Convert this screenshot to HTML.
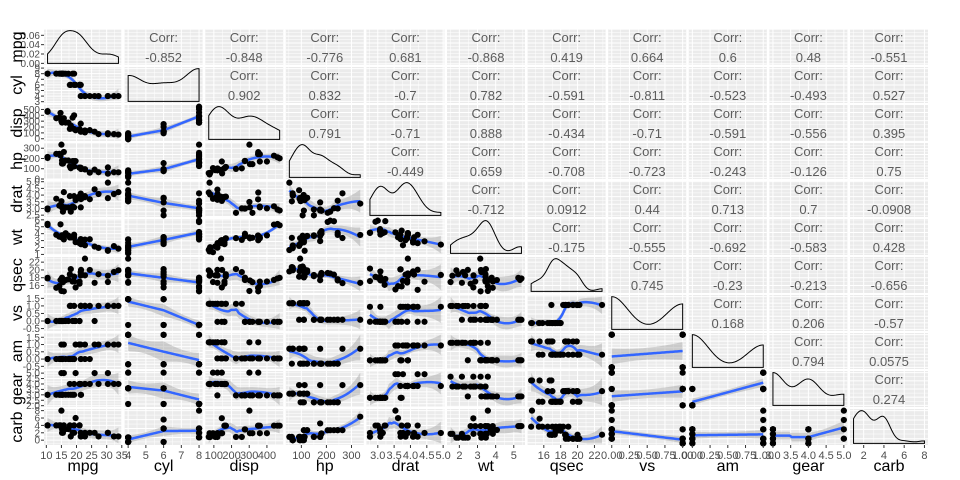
<!DOCTYPE html>
<html><head><meta charset="utf-8">
<style>
html,body{margin:0;padding:0;background:#fff;}
svg{display:block;font-family:"Liberation Sans",sans-serif;}
</style></head>
<body>
<svg id="chart" width="960" height="480" viewBox="0 0 960 480" xmlns="http://www.w3.org/2000/svg"></svg>
<script>
const varNames = ["mpg","cyl","disp","hp","drat","wt","qsec","vs","am","gear","carb"];
const mpg = [21,21,22.8,21.4,18.7,18.1,14.3,24.4,22.8,19.2,17.8,16.4,17.3,15.2,10.4,10.4,14.7,32.4,30.4,33.9,21.5,15.5,15.2,13.3,19.2,27.3,26,30.4,15.8,19.7,15,21.4];
const cyl = [6,6,4,6,8,6,8,4,4,6,6,8,8,8,8,8,8,4,4,4,4,8,8,8,8,4,4,4,8,6,8,4];
const disp = [160,160,108,258,360,225,360,146.7,140.8,167.6,167.6,275.8,275.8,275.8,472,460,440,78.7,75.7,71.1,120.1,318,304,350,400,79,120.3,95.1,351,145,301,121];
const hp = [110,110,93,110,175,105,245,62,95,123,123,180,180,180,205,215,230,66,52,65,97,150,150,245,175,66,91,113,264,175,335,109];
const drat = [3.9,3.9,3.85,3.08,3.15,2.76,3.21,3.69,3.92,3.92,3.92,3.07,3.07,3.07,2.93,3,3.23,4.08,4.93,4.22,3.7,2.76,3.15,3.73,3.08,4.08,4.43,3.77,4.22,3.62,3.54,4.11];
const wt = [2.62,2.875,2.32,3.215,3.44,3.46,3.57,3.19,3.15,3.44,3.44,4.07,3.73,3.78,5.25,5.424,5.345,2.2,1.615,1.835,2.465,3.52,3.435,3.84,3.845,1.935,2.14,1.513,3.17,2.77,3.57,2.78];
const qsec = [16.46,17.02,18.61,19.44,17.02,20.22,15.84,20,22.9,18.3,18.9,17.4,17.6,18,17.98,17.82,17.42,19.47,18.52,19.9,20.01,16.87,17.3,15.41,17.05,18.9,16.7,16.9,14.5,15.5,14.6,18.6];
const vs = [0,0,1,1,0,1,0,1,1,1,1,0,0,0,0,0,0,1,1,1,1,0,0,0,0,1,0,1,0,0,0,1];
const am = [1,1,1,0,0,0,0,0,0,0,0,0,0,0,0,0,0,1,1,1,0,0,0,0,0,1,1,1,1,1,1,1];
const gear = [4,4,4,3,3,3,3,4,4,4,4,3,3,3,3,3,3,4,4,4,3,3,3,3,3,4,5,5,5,5,5,4];
const carb = [4,4,1,1,2,1,4,2,2,4,4,3,3,3,4,4,4,1,2,1,1,2,2,4,2,1,2,2,4,6,8,2];
const tickMpg = [10,15,20,25,30,35];
const tickCyl = [4,5,6,7,8];
const tickDisp = [100,200,300,400];
const tickHp = [100,200,300];
const tickDrat = [3.0,3.5,4.0,4.5,5.0];
const tickWt = [2,3,4,5];
const tickQsec = [16,18,20,22];
const tickVs = [0,0.25,0.5,0.75,1];
const tickAm = [0,0.25,0.5,0.75,1];
const tickGear = [3.0,3.5,4.0,4.5,5.0];
const tickCarb = [2,4,6,8];
const tickDensity = [0,0.02,0.04,0.06];

const cols = [mpg,cyl,disp,hp,drat,wt,qsec,vs,am,gear,carb];
const ticks = [tickMpg,tickCyl,tickDisp,tickHp,tickDrat,tickWt,tickQsec,tickVs,tickAm,tickGear,tickCarb];
const tickFmt = [v=>v, v=>v, v=>v, v=>v, v=>v.toFixed(1), v=>v, v=>v, v=>v.toFixed(2), v=>v.toFixed(2), v=>v.toFixed(1), v=>v];

const NS="http://www.w3.org/2000/svg";
const svg=document.getElementById('chart');
function el(tag,attrs,parent){const e=document.createElementNS(NS,tag);for(const k in attrs)e.setAttribute(k,attrs[k]);(parent||svg).appendChild(e);return e;}

const X0=44, XS=80.6, PW=78, Y0=29, YS=38, PH=36;
const N=varNames.length;
const ranges=cols.map(c=>{const mn=Math.min(...c),mx=Math.max(...c),d=mx-mn;return [mn-0.05*d,mx+0.05*d];});
function sx(j,v){const r=ranges[j];return X0+j*XS+(v-r[0])/(r[1]-r[0])*PW;}

function mean(a){return a.reduce((s,v)=>s+v,0)/a.length;}
function corr(a,b){const ma=mean(a),mb=mean(b);let sab=0,saa=0,sbb=0;for(let k=0;k<a.length;k++){sab+=(a[k]-ma)*(b[k]-mb);saa+=(a[k]-ma)**2;sbb+=(b[k]-mb)**2;}return sab/Math.sqrt(saa*sbb);}
function fmtCorr(r){return String(Number(r.toPrecision(3)));}
function pretty(lo,hi){const raw=(hi-lo)/5;const p=Math.pow(10,Math.floor(Math.log10(raw)));let st=p;for(const m of [1,2,2.5,5,10]){if(m*p>=raw*0.75){st=m*p;break;}}
 const out=[];for(let v=Math.ceil(lo/st)*st;v<=hi+1e-9;v+=st)out.push(Math.round(v*1e6)/1e6);return {t:out,st:st};}
function fmtNum(v,st){const d=st>=1?0:Math.min(3,Math.ceil(-Math.log10(st)-1e-9)+(st*Math.pow(10,Math.ceil(-Math.log10(st)))%1?1:0));return v.toFixed(d);}

function solve(A,b){const n=b.length;A=A.map(r=>r.slice());b=b.slice();
 for(let c=0;c<n;c++){let p=c;for(let r=c+1;r<n;r++)if(Math.abs(A[r][c])>Math.abs(A[p][c]))p=r;
  if(Math.abs(A[p][c])<1e-8*(1+Math.abs(A[0][0])))return null;[A[c],A[p]]=[A[p],A[c]];[b[c],b[p]]=[b[p],b[c]];
  for(let r=0;r<n;r++){if(r===c)continue;const f=A[r][c]/A[c][c];for(let k=c;k<n;k++)A[r][k]-=f*A[c][k];b[r]-=f*b[c];}}
 return b.map((v,i)=>v/A[i][i]);}
// returns smoother weights l_k at x0
function smoothWeights(x,x0,global){const n=x.length;let w;
 if(global){w=Array(n).fill(1);}else{const q=Math.ceil(0.75*n);
  const d=x.map(v=>Math.abs(v-x0));const sd=d.slice().sort((a,b)=>a-b);let h=sd[q-1];if(h<=0)h=1e-6;h*=1.0001;
  w=d.map(v=>{const u=v/h;return u<1?(1-u*u*u)**3:0;});}
 const degs=global?[1]:[2,1,0];
 for(const deg of degs){const m=deg+1;const A=[...Array(m)].map(()=>Array(m).fill(0));
  for(let k=0;k<n;k++){const t=x[k]-x0;const p=[1,t,t*t];for(let a=0;a<m;a++)for(let c=0;c<m;c++)A[a][c]+=w[k]*p[a]*p[c];}
  const e=Array(m).fill(0);e[0]=1;const z=solve(A,e);
  if(z){return x.map((v,k)=>{const t=v-x0;const p=[1,t,t*t];let s=0;for(let a=0;a<m;a++)s+=p[a]*z[a];return w[k]*s;});}}
 const sw=w.reduce((a,b)=>a+b,0);return w.map(v=>v/sw);}
function smoothFit(xv,yv){const uniq=new Set(xv).size;const global=uniq<=2;
 const fits=xv.map(v=>{const l=smoothWeights(xv,v,global);return l.reduce((s,lk,k)=>s+lk*yv[k],0);});
 const rss=yv.reduce((s,v,k)=>s+(v-fits[k])**2,0);const sig=Math.sqrt(rss/Math.max(1,xv.length-(global?2:5)));
 const mn=Math.min(...xv),mx=Math.max(...xv);const out=[];
 for(let k=0;k<=60;k++){const v=mn+(mx-mn)*k/60;const l=smoothWeights(xv,v,global);
  const f=l.reduce((s,lk,kk)=>s+lk*yv[kk],0);const se=sig*Math.sqrt(l.reduce((s,lk)=>s+lk*lk,0));
  out.push([v,f,f-2.04*se,f+2.04*se]);}
 return out;}

// precompute smooths and panel y ranges
const smooths={},yr={};
for(let i=0;i<N;i++)for(let j=0;j<N;j++){
 const yv=cols[i];let lo=Math.min(...yv),hi=Math.max(...yv);
 if(i>j){const s=smoothFit(cols[j],yv);smooths[i+'_'+j]=s;s.forEach(p=>{lo=Math.min(lo,p[2]);hi=Math.max(hi,p[3]);});}
 const d=hi-lo;yr[i+'_'+j]=[lo-0.05*d,hi+0.05*d];}
function syP(i,j,v){const r=yr[i+'_'+j];return Y0+i*YS+PH-(v-r[0])/(r[1]-r[0])*PH;}

for(let i=0;i<N;i++)for(let j=0;j<N;j++){
 const px=X0+j*XS,py=Y0+i*YS;
 const g=el('g',{});
 
 
 el('rect',{x:px,y:py,width:PW,height:PH,fill:'#ebebeb'},g);
 const cp=el('clipPath',{id:'c'+i+'_'+j},g);el('rect',{x:px,y:py,width:PW,height:PH},cp);
 const tj=ticks[j];
 const gridV=[];for(let k=0;k<tj.length;k++){gridV.push([tj[k],1]);if(k<tj.length-1)gridV.push([(tj[k]+tj[k+1])/2,0.5]);}
 if(tj.length>1){gridV.push([tj[0]-(tj[1]-tj[0])/2,0.5]);gridV.push([tj[tj.length-1]+(tj[1]-tj[0])/2,0.5]);}
 const gg=el('g',{'clip-path':'url(#c'+i+'_'+j+')',stroke:'#fff'},g);
 gridV.forEach(([v,sw])=>{const xx=sx(j,v);el('line',{x1:xx,x2:xx,y1:py,y2:py+PH,'stroke-width':sw},gg);});
 const r=yr[i+'_'+j];const pt=pretty(r[0],r[1]);const ti=pt.t;
 const gridH=[];for(let k=0;k<ti.length;k++){gridH.push([ti[k],1]);gridH.push([ti[k]+pt.st/2,0.5]);}
 gridH.push([ti[0]-pt.st/2,0.5]);
 gridH.forEach(([v,sw])=>{const yy=syP(i,j,v);el('line',{x1:px,x2:px+PW,y1:yy,y2:yy,'stroke-width':sw},gg);});

 const cl=el('g',{'clip-path':'url(#c'+i+'_'+j+')'},g);
 if(i<j){
  const rr=corr(cols[i],cols[j]);
  const t1=el('text',{x:px+PW/2,y:py+13,'text-anchor':'middle','font-size':13,fill:'#5c5c5c'},g);t1.textContent='Corr:';
  
  
  const t2=el('text',{x:px+PW/2,y:py+33,'text-anchor':'middle','font-size':13,fill:'#5c5c5c'},g);t2.textContent=fmtCorr(rr);
  
  
 } else if(i===j){
  const x=cols[j];const n=x.length;const sd=Math.sqrt(x.reduce((s,v)=>s+(v-mean(x))**2,0)/(n-1));
  const s=[...x].sort((a,b)=>a-b);const iqr=(s[Math.floor(0.75*(n-1))]-s[Math.floor(0.25*(n-1))])/1.34;
  const bw=0.9*Math.min(sd,iqr>0?iqr:sd)*Math.pow(n,-0.2);
  const mn=Math.min(...x),mx=Math.max(...x);const pts=[];let dmax=0;
  for(let k=0;k<=80;k++){const v=mn+(mx-mn)*k/80;let d=0;x.forEach(u=>{d+=Math.exp(-0.5*((v-u)/bw)**2);});d/=n*bw*Math.sqrt(2*Math.PI);pts.push([v,d]);if(d>dmax)dmax=d;}
  const top=py+PH*0.05/1.1, bot=py+PH-PH*0.05/1.1;
  const ymap=d=>bot-(d/dmax)*(bot-top);
  let dstr='M'+sx(j,mn)+','+bot;pts.forEach(p=>{dstr+=' L'+sx(j,p[0]).toFixed(2)+','+ymap(p[1]).toFixed(2);});dstr+=' L'+sx(j,mx)+','+bot+' Z';
  const pth=el('path',{d:dstr,fill:'none',stroke:'#000','stroke-width':1},cl);
  
  
 } else {
  const xv=cols[j],yv=cols[i];const sm=smooths[i+'_'+j];
  let band='';sm.forEach((p,k)=>{band+=(k?' L':'M')+sx(j,p[0]).toFixed(2)+','+syP(i,j,p[3]).toFixed(2);});
  sm.slice().reverse().forEach(p=>{band+=' L'+sx(j,p[0]).toFixed(2)+','+syP(i,j,p[2]).toFixed(2);});band+=' Z';
  const b=el('path',{d:band,fill:'#999999','fill-opacity':0.4,stroke:'none'},cl);
  
  
  xv.forEach((v,k)=>{const c=el('circle',{cx:sx(j,v).toFixed(2),cy:syP(i,j,yv[k]).toFixed(2),r:3.1,fill:'#000'},g);
   
   });
  let ld='';sm.forEach((p,k)=>{ld+=(k?' L':'M')+sx(j,p[0]).toFixed(2)+','+syP(i,j,p[1]).toFixed(2);});
  const lp=el('path',{d:ld,fill:'none',stroke:'#3366FF','stroke-width':2.5},cl);
  
  
 }
}

for(let j=0;j<N;j++){
 ticks[j].forEach(v=>{const xx=sx(j,v);const by=Y0+(N-1)*YS+PH;
  el('line',{x1:xx,x2:xx,y1:by,y2:by+3,stroke:'#333','stroke-width':1});
  const t=el('text',{x:xx,y:by+14,'text-anchor':'middle','font-size':11,fill:'#4d4d4d'});t.textContent=tickFmt[j](v);
  
  });
 const t=el('text',{x:X0+j*XS+PW/2,y:471,'text-anchor':'middle','font-size':16,fill:'#000'});t.textContent=varNames[j];
 
 
}
for(let i=0;i<N;i++){
 let tv,yf,fmt;
 if(i===0){tv=tickDensity;
  const top=Y0+PH*0.05/1.1,bot=Y0+PH-PH*0.05/1.1;const dmax=0.07;yf=v=>bot-(v/dmax)*(bot-top);fmt=v=>v.toFixed(2);}
 else{const r=yr[i+'_0'];const pt=pretty(r[0],r[1]);tv=pt.t;yf=v=>syP(i,0,v);fmt=v=>fmtNum(v,pt.st);}
 tv.forEach(v=>{const yy=yf(v);
  el('line',{x1:X0-3,x2:X0,y1:yy,y2:yy,stroke:'#333','stroke-width':1});
  const t=el('text',{x:X0-4,y:yy+3.5,'text-anchor':'end','font-size':10,fill:'#4d4d4d'});t.textContent=fmt(v);
  
  });
 const cy=Y0+i*YS+PH/2;
 const t=el('text',{x:0,y:0,'text-anchor':'middle','font-size':16,fill:'#000',transform:'translate(22,'+cy+') rotate(-90)'});t.textContent=varNames[i];
 
 
}
</script>
</body></html>
